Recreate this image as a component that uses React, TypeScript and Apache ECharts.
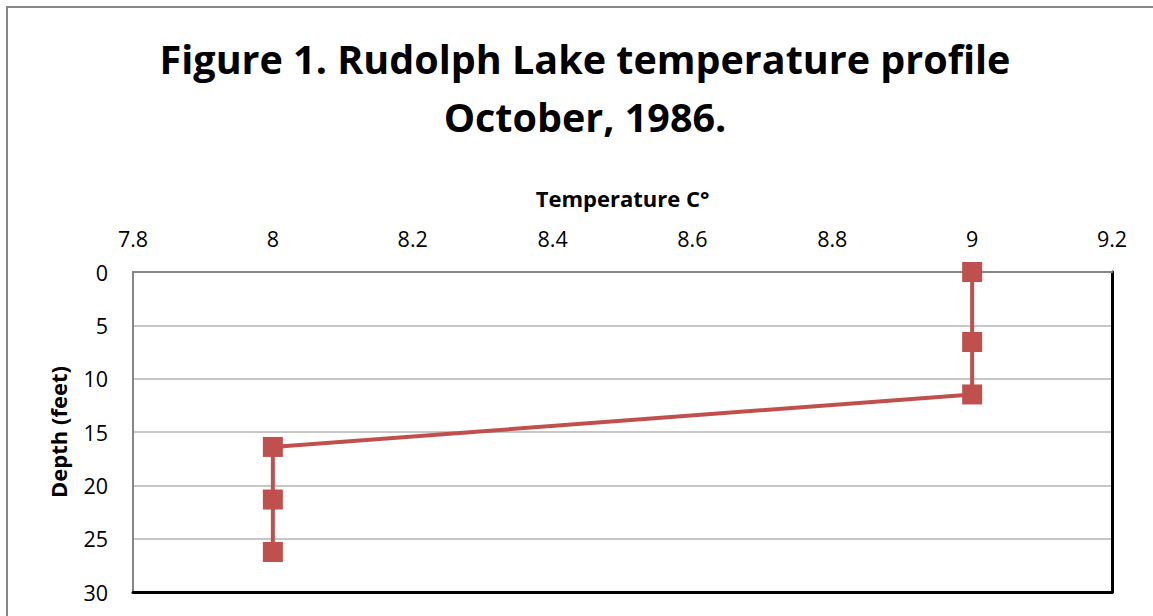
import React, { useEffect, useRef } from "react";
import * as echarts from "echarts";

const titleLines = ["Figure 1. Rudolph Lake temperature profile", "October, 1986."];
const xAxisName = "Temperature C°";
const yAxisName = "Depth (feet)";
const temperatures = [9, 9, 9, 8, 8, 8];
const depths = [0, 6.56, 11.48, 16.4, 21.33, 26.25];
const xMin = 7.8;
const xMax = 9.2;
const xStep = 0.2;
const yMin = 0;
const yMax = 30;
const yStep = 5;

const FONT = "'Open Sans', Lato, sans-serif";
const RED = "#c0504d";

export default function App() {
  const ref = useRef<HTMLDivElement>(null);
  useEffect(() => {
    if (!ref.current) return;
    const chart = echarts.init(ref.current, null, { renderer: "svg" });
    const points = temperatures.map((t, i) => [t, depths[i]]);
    chart.setOption({
      animation: false,
      backgroundColor: "#ffffff",
      textStyle: { fontFamily: FONT },
      title: {
        text: titleLines.join("\n"),
        left: 580,
        textAlign: "center",
        top: 25,
        textStyle: {
          fontFamily: FONT,
          fontSize: 39.5,
          fontWeight: "bold",
          color: "#000",
          lineHeight: 58,
        },
      },
      graphic: [
        {
          type: "rect",
          shape: { x: 7, y: 7, width: 1300, height: 800 },
          style: { fill: "none", stroke: "#888888", lineWidth: 2 },
          silent: true,
          z: -10,
        },
      ],
      grid: { left: 133, right: 41, top: 272, bottom: 24, containLabel: false },
      xAxis: [
        {
          type: "value",
          position: "top",
          min: xMin,
          max: xMax,
          interval: xStep,
          name: xAxisName,
          nameLocation: "middle",
          nameGap: 63,
          nameTextStyle: { fontFamily: FONT, fontSize: 22, fontWeight: "bold", color: "#000" },
          axisLine: { show: true, onZero: false, lineStyle: { color: "#868686", width: 2 } },
          axisTick: { show: false },
          axisLabel: {
            fontFamily: FONT,
            fontSize: 21.5,
            color: "#000",
            margin: 23,
            formatter: (v: number) => String(Number(v.toFixed(1))),
          },
          splitLine: { show: false },
        },
        {
          type: "value",
          position: "bottom",
          min: xMin,
          max: xMax,
          axisLine: { show: true, onZero: false, lineStyle: { color: "#000", width: 3 } },
          axisTick: { show: false },
          axisLabel: { show: false },
          splitLine: { show: false },
        },
      ],
      yAxis: [
        {
          type: "value",
          inverse: true,
          min: yMin,
          max: yMax,
          interval: yStep,
          name: yAxisName,
          nameLocation: "middle",
          nameGap: 64,
          nameRotate: 90,
          nameTextStyle: { fontFamily: FONT, fontSize: 22, fontWeight: "bold", color: "#000" },
          axisLine: { show: true, onZero: false, lineStyle: { color: "#868686", width: 2 } },
          axisTick: { show: false },
          axisLabel: { fontFamily: FONT, fontSize: 21.5, color: "#000", margin: 25 },
          splitLine: { show: true, lineStyle: { color: "#c6c6c6", width: 2 } },
        },
        {
          type: "value",
          position: "right",
          inverse: true,
          min: yMin,
          max: yMax,
          axisLine: { show: true, onZero: false, lineStyle: { color: "#000", width: 3 } },
          axisTick: { show: false },
          axisLabel: { show: false },
          splitLine: { show: false },
        },
      ],
      series: [
        {
          type: "line",
          xAxisIndex: 0,
          yAxisIndex: 0,
          data: points,
          symbol: "rect",
          symbolSize: 20,
          lineStyle: { color: RED, width: 4 },
          itemStyle: { color: RED },
          z: 5,
        },
      ],
    });
    return () => chart.dispose();
  }, []);
  return (
    <div
      ref={ref}
      style={{ position: "absolute", left: 0, top: 0, width: 1153, height: 616 }}
    />
  );
}
